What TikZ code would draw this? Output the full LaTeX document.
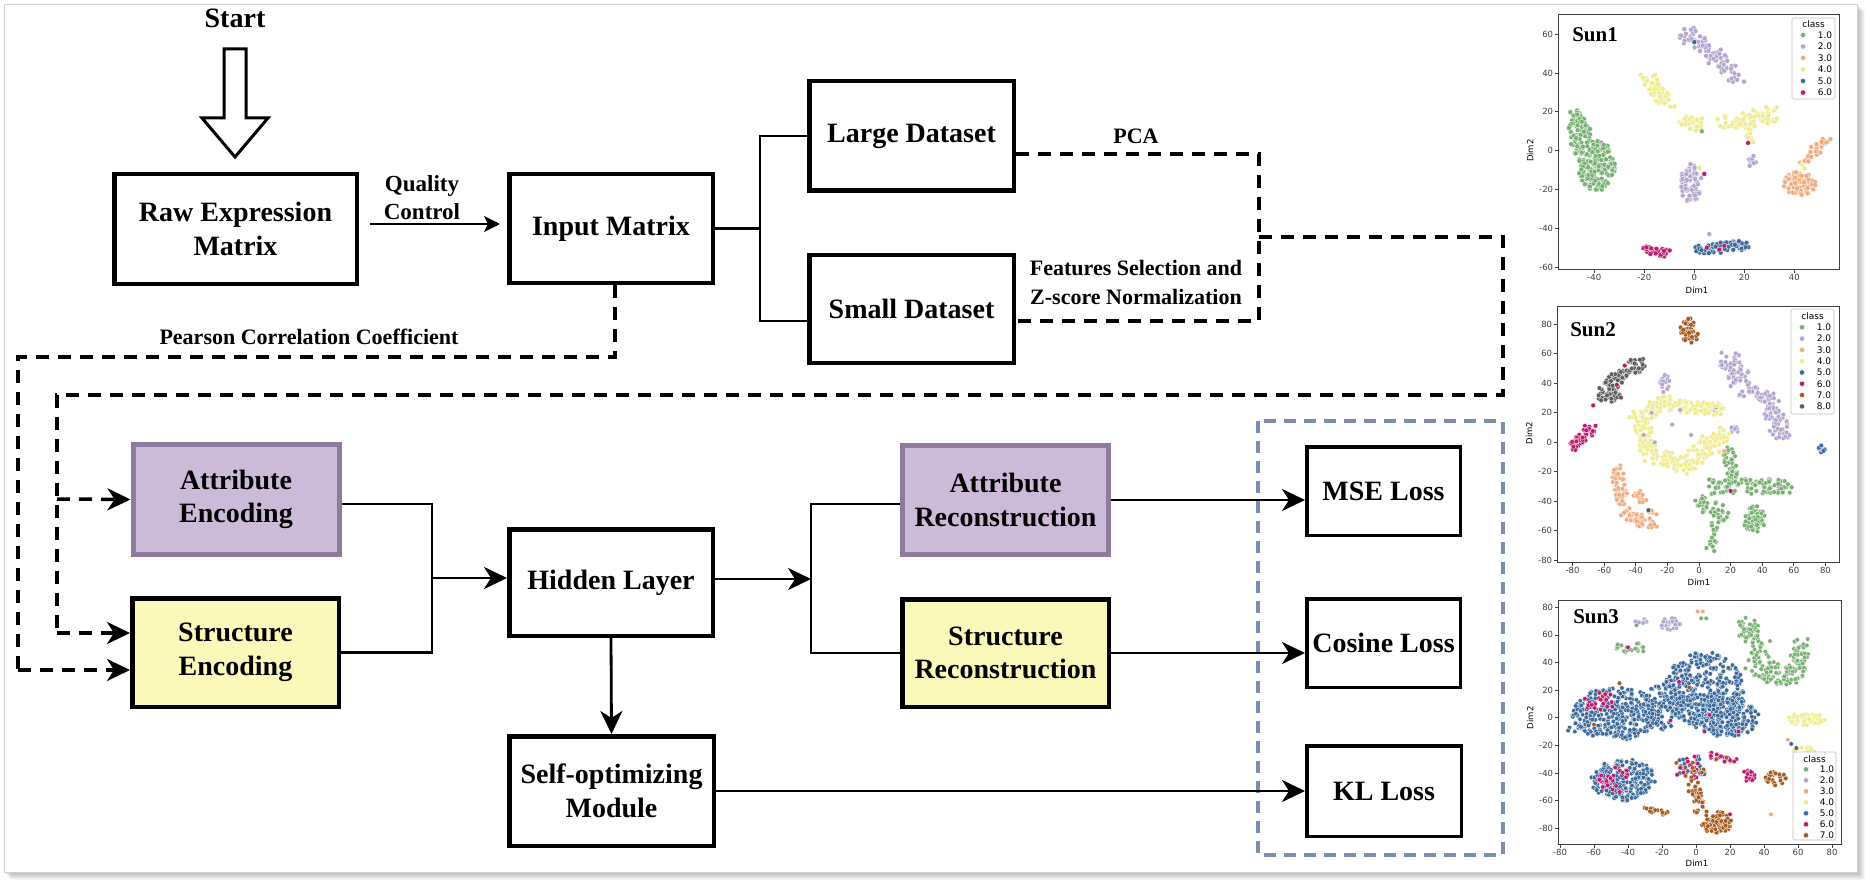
\documentclass[tikz,border=0pt]{standalone}
\usepackage{fontspec}
\setmainfont{Liberation Serif}
\newfontfamily\plotfont{DejaVu Sans}
\usetikzlibrary{arrows.meta}
\definecolor{attfill}{HTML}{CBBBD8}
\definecolor{attdraw}{HTML}{8E7B9C}
\definecolor{strfill}{HTML}{FBF9B9}
\definecolor{bluedash}{HTML}{7A8FAE}
\definecolor{c1}{HTML}{79B174}
\definecolor{c2}{HTML}{B3A6CF}
\definecolor{c3}{HTML}{F0AC7E}
\definecolor{c4}{HTML}{EFEC8E}
\definecolor{c5}{HTML}{3C6A9C}
\definecolor{c6}{HTML}{C2186E}
\definecolor{c7}{HTML}{A65B1D}
\definecolor{c8}{HTML}{5E5E5E}
\def\scdotr{2.3pt}
\newcommand\dotblob[6]{%
  \foreach \k in {1,...,#1}{%
    \pgfmathsetmacro\myrad{sqrt(rnd)}%
    \pgfmathsetmacro\myang{360*rnd}%
    \pgfmathsetmacro\myx{(#2)+(#4)*\myrad*cos(\myang)}%
    \pgfmathsetmacro\myy{(#3)+(#5)*\myrad*sin(\myang)}%
    \fill[scdot=#6] (\myx,\myy) circle[radius=\scdotr];
  }}
\newcommand\dotseg[7]{%
  \foreach \k in {1,...,#1}{%
    \pgfmathsetmacro\myu{rnd}%
    \pgfmathsetmacro\myx{(#2)+((#4)-(#2))*\myu+(#6)*rand}%
    \pgfmathsetmacro\myy{(#3)+((#5)-(#3))*\myu+(#6)*rand}%
    \fill[scdot=#7] (\myx,\myy) circle[radius=\scdotr];
  }}
\newcommand\onedot[3]{\fill[scdot=#3] (#1,#2) circle[radius=\scdotr];}
\begin{document}
\begin{tikzpicture}[x=1pt,y=-1pt,
  mainbox/.style={draw=black, line width=4.5pt, fill=white, align=center, inner sep=0pt, font=\fontsize{28}{33.5}\selectfont\bfseries},
  attbox/.style={mainbox, draw=attdraw, fill=attfill, line width=5pt},
  strbox/.style={mainbox, fill=strfill},
  lossbox/.style={mainbox, line width=3.5pt},
  lbl/.style={align=center, inner sep=0pt, font=\fontsize{22}{29}\selectfont\bfseries},
  conn/.style={line width=2.8pt, line join=miter},
  arr/.style={-{Stealth[length=23pt,width=22pt,inset=7pt]}},
  dsh/.style={line width=3.5pt, dash pattern=on 13pt off 9pt},
  scdot/.style={fill=#1, draw=white, line width=0.3pt},
  tickf/.style={font=\plotfont\fontsize{8.5}{9}\selectfont, inner sep=1pt},
  legf/.style={font=\plotfont\fontsize{9}{10}\selectfont, inner sep=0pt},
  axframe/.style={draw=black!75, line width=0.9pt},
  legbox/.style={draw=black!25, fill=white, line width=0.6pt, rounded corners=1.5pt},
  sunlbl/.style={font=\fontsize{21}{21}\selectfont\bfseries, inner sep=0pt}
]
\useasboundingbox (0,0) rectangle (1870,885);
\fill[white] (0,0) rectangle (1870,885);
\foreach \i in {1,...,8} \fill[black, opacity=0.035] ({3+\i},{3+\i}) rectangle ({1857+\i},{872+\i});
\fill[white, draw=black!18, line width=0.8pt] (4,4) rectangle (1857,872);

% ---------- flow chart ----------
\node[lbl, font=\fontsize{28}{33}\selectfont\bfseries] (start) at (235,18) {Start};
\draw[line width=3pt, fill=white, line join=miter] (224,49) -- (246,49) -- (246,118) -- (268,118) -- (235,157) -- (202,118) -- (224,118) -- cycle;

\node[mainbox, minimum width=242.5pt, minimum height=109.5pt] (raw) at (235.5,229) {Raw Expression\\Matrix};
\node[mainbox, minimum width=203.5pt, minimum height=108.5pt] (input) at (611,228.5) {Input Matrix};
\node[mainbox, minimum width=204.5pt, minimum height=109.5pt] (large) at (911.5,136) {Large Dataset};
\node[mainbox, minimum width=204.5pt, minimum height=107.5pt] (small) at (911.5,309) {Small Dataset};
\node[attbox, minimum width=206pt, minimum height=110pt] (attenc) at (236,499.5) {Attribute\\Encoding};
\node[strbox, minimum width=206.5pt, minimum height=108.5pt] (strenc) at (235.5,652.5) {Structure\\Encoding};
\node[mainbox, minimum width=203.5pt, minimum height=106.5pt] (hidden) at (611,582.5) {Hidden Layer};
\node[mainbox, minimum width=204.5pt, minimum height=109.5pt] (selfopt) at (611.5,791) {Self-optimizing\\Module};
\node[attbox, minimum width=206pt, minimum height=109pt] (attrec) at (1005.5,500) {Attribute\\Reconstruction};
\node[strbox, minimum width=206.5pt, minimum height=107.5pt] (strrec) at (1005.5,653) {Structure\\Reconstruction};
\draw[bluedash, line width=4pt, dash pattern=on 12pt off 8pt] (1258,421) rectangle (1503,855);
\node[lossbox, minimum width=153.5pt, minimum height=88.5pt] (mse) at (1383.5,491) {MSE Loss};
\node[lossbox, minimum width=153.5pt, minimum height=88.5pt] (cos) at (1383.5,643) {Cosine Loss};
\node[lossbox, minimum width=154.5pt, minimum height=90.5pt] (kl) at (1384,791) {KL Loss};

% labels
\node[lbl, font=\fontsize{23}{28}\selectfont\bfseries] (qc) at (422,198) {Quality\\Control};
\node[lbl] (pca) at (1136,136) {PCA};
\node[lbl] (fs) at (1136,282.5) {Features Selection and\\Z-score Normalization};
\node[lbl] (pcc) at (309,337) {Pearson Correlation Coefficient};

% solid connectors
\draw[line width=2.2pt, -{Stealth[length=16pt,width=16pt,inset=4pt]}] ([xshift=11pt,yshift=5pt]raw.east) -- ([xshift=-7pt,yshift=4.5pt]input.west);
\coordinate (j1) at (760,228.5);
\draw[conn] (input.east) -- (j1);
\draw[conn] (large.west) -| (j1) |- ([yshift=-12pt]small.west);
\coordinate (j2) at (432,504);
\draw[conn] ([yshift=-4.5pt]attenc.east) -| (j2) |- (strenc.east);
\draw[conn, arr] (432,578) -- ([yshift=4.5pt]hidden.west);
\draw[conn, arr] (hidden.south) -- (selfopt.north);
\coordinate (j3) at (811,579);
\draw[conn, arr] ([yshift=3.5pt]hidden.east) -- (j3);
\draw[conn] ([yshift=-4pt]attrec.west) -| (811,653) -- (strrec.west);
\draw[conn, arr] (attrec.east) -- (attrec.east -| mse.west);
\draw[conn, arr] (strrec.east) -- (strrec.east -| cos.west);
\draw[conn, arr] (selfopt.east) -- (selfopt.east -| kl.west);

% dashed connectors
\coordinate (d1) at (1259,154);
\coordinate (d2) at (1259,321);
\draw[dsh] ([yshift=-18pt]large.east) -- (d1) -- (d2) -- ([yshift=-12pt]small.east);
\coordinate (d3) at (1259,237);
\coordinate (d4) at (1503,237);
\coordinate (d5) at (1503,395);
\coordinate (d6) at (57,395);
\draw[dsh] (d3) -- (d4) -- (d5) -- (d6) -- (57,633);
\draw[dsh, arr] (57,633) -- ([yshift=19.5pt]strenc.west);
\draw[dsh, arr] (57,499) -- (attenc.west);
\coordinate (p1) at (615,357);
\coordinate (p2) at (18,357);
\draw[dsh] ([xshift=4pt]input.south) -- (p1) -- (p2) -- (18,670);
\draw[dsh, arr] (18,670) -- ([yshift=-17.5pt]strenc.west);

% ---------- Sun1 ----------
\begin{scope}[shift={(1694.3,150.7)}, x=2.5pt, y=1.94pt]
\pgfmathsetseed{11}
\def\scdotr{2.5pt}
\dotseg{30}{-48}{20}{-44}{8}{2.5}{c1}
\dotblob{65}{-46}{8}{4.5}{11}{c1}
\dotblob{180}{-39}{-8}{7.5}{13}{c1}
\dotseg{85}{-3}{61}{17}{38}{3.5}{c2}
\onedot{0}{56}{c5}
\dotseg{50}{-19}{38}{-10}{24}{3}{c4}
\dotblob{40}{-1}{14}{5.5}{4}{c4}
\onedot{3}{10}{c1}
\dotseg{75}{13}{13}{31}{19}{4}{c4}
\dotseg{14}{22}{12}{22}{5}{1.5}{c4}
\onedot{21.5}{4}{c6}
\dotblob{10}{23}{-5}{1.8}{3.5}{c2}
\dotblob{80}{42}{-17}{6.5}{6}{c3}
\dotseg{30}{43}{-6}{53}{6}{2}{c3}
\onedot{43}{-7}{c4}\onedot{44}{-9}{c4}
\dotblob{75}{-1.5}{-16.5}{4.5}{10}{c2}
\onedot{4}{-12}{c6}\onedot{2}{-9}{c4}
\dotseg{28}{-20}{-50.5}{-10}{-53}{2}{c6}
\dotseg{65}{1}{-52}{20}{-48}{2.5}{c5}
\onedot{5}{-50}{c6}\onedot{10}{-51}{c6}\onedot{12}{-49}{c6}
\onedot{6}{-43}{c2}
\end{scope}
\draw[axframe] (1558,14) rectangle (1839,269);
\foreach \v in {60,40,...,-60}{
  \pgfmathsetmacro\yy{150.7-1.94*\v}
  \draw[black!75, line width=0.8pt] (1558,\yy) -- (1554.5,\yy) node[left, tickf] {\v};}
\foreach \v in {-40,-20,...,40}{
  \pgfmathsetmacro\xx{1694.3+2.5*\v}
  \draw[black!75, line width=0.8pt] (\xx,269) -- (\xx,272.5) node[below, tickf] {\v};}
\node[tickf] (s1x) at (1697,290) {Dim1};
\node[tickf, rotate=90] (s1y) at (1530,150.7) {Dim2};
\node[sunlbl] (s1) at (1595,35) {Sun1};
\draw[legbox] (1792,18) rectangle (1835,99);
\node[legf] at (1813.5,24.5) {class};
\foreach \k/\lab/\col in {1/1.0/c1,2/2.0/c2,3/3.0/c3,4/4.0/c4,5/5.0/c5,6/6.0/c6}{
  \pgfmathsetmacro\ly{35+11.5*(\k-1)}
  \fill[scdot=\col] (1803,\ly) circle[radius=2.6pt];
  \node[legf] at (1825,\ly) {\lab};}

% ---------- Sun2 ----------
\begin{scope}[shift={(1699,442.3)}, x=1.58pt, y=1.475pt]
\pgfmathsetseed{22}
\def\scdotr{2.4pt}
\dotblob{40}{-6}{75}{6}{9}{c7}
\dotseg{90}{-60}{34}{-38}{55}{5}{c8}
\dotseg{22}{-60}{30}{-48}{31}{3}{c8}
\onedot{-47}{52}{c6}\onedot{-52}{39}{c6}\onedot{-67}{25}{c6}
\dotblob{16}{-22}{40}{3.5}{6}{c2}
\dotseg{42}{-80}{-3}{-68}{10}{3}{c6}
\dotseg{60}{17}{57}{28}{40}{6}{c2}
\dotseg{30}{28}{36}{42}{30}{4}{c2}
\dotseg{85}{44}{30}{52}{5}{6}{c2}
\dotseg{10}{8}{22}{12}{24}{2}{c2}
\dotseg{10}{20}{8}{26}{11}{2}{c2}
\dotseg{60}{-40}{14}{-25}{26}{5}{c4}
\dotseg{85}{-25}{27}{12}{23}{5}{c4}
\dotseg{55}{-36}{12}{-32}{-6}{5}{c4}
\dotseg{65}{-30}{-9}{-4}{-17}{5}{c4}
\dotseg{80}{-6}{-13}{16}{6}{6}{c4}
\onedot{-30}{20}{c2}\onedot{-17}{12}{c2}\onedot{-35}{5}{c2}\onedot{-28}{0}{c2}\onedot{-5}{5}{c2}\onedot{-12}{22}{c2}
\dotblob{8}{78}{-4}{2.5}{3.5}{c5}
\dotseg{50}{-52}{-18}{-48}{-42}{4}{c3}
\dotseg{45}{-48}{-48}{-28}{-57}{4}{c3}
\dotseg{20}{-40}{-33}{-29}{-50}{3}{c3}
\onedot{-32}{-46}{c8}
\dotseg{45}{18}{-5}{22}{-30}{4}{c1}
\dotseg{90}{5}{-30}{55}{-30}{5}{c1}
\dotseg{45}{-1}{-40}{15}{-50}{5}{c1}
\dotseg{16}{10}{-55}{7}{-72}{3}{c1}
\dotblob{60}{35}{-52}{7}{9}{c1}
\onedot{20}{-33}{c6}\onedot{16}{-6}{c3}
\end{scope}
\draw[axframe] (1557,306) rectangle (1839,562);
\foreach \v in {80,60,...,-80}{
  \pgfmathsetmacro\yy{442.3-1.475*\v}
  \draw[black!75, line width=0.8pt] (1557,\yy) -- (1553.5,\yy) node[left, tickf] {\v};}
\foreach \v in {-80,-60,...,80}{
  \pgfmathsetmacro\xx{1699+1.58*\v}
  \draw[black!75, line width=0.8pt] (\xx,562) -- (\xx,565.5) node[below, tickf] {\v};}
\node[tickf] (s2x) at (1699,582) {Dim1};
\node[tickf, rotate=90] (s2y) at (1529,433) {Dim2};
\node[sunlbl] (s2) at (1593,330) {Sun2};
\draw[legbox] (1791,309) rectangle (1834,414);
\node[legf] at (1812.5,316) {class};
\foreach \k/\lab/\col in {1/1.0/c1,2/2.0/c2,3/3.0/c3,4/4.0/c4,5/5.0/c5,6/6.0/c6,7/7.0/c7,8/8.0/c8}{
  \pgfmathsetmacro\ly{327.3+11.3*(\k-1)}
  \fill[scdot=\col] (1802,\ly) circle[radius=2.6pt];
  \node[legf] at (1824,\ly) {\lab};}

% ---------- Sun3 ----------
\begin{scope}[shift={(1696,717.7)}, x=1.7pt, y=1.38pt]
\pgfmathsetseed{33}
\def\scdotr{2.3pt}
\dotseg{12}{-74}{-9}{-66}{-6}{2}{c5}
\dotblob{330}{-47}{3}{26}{19}{c5}
\dotblob{110}{-20}{8}{12}{18}{c5}
\dotblob{380}{5}{20}{23}{28}{c5}
\dotblob{180}{18}{0}{19}{14}{c5}
\dotblob{20}{-56}{12}{10}{8}{c6}
\onedot{-10}{26}{c6}\onedot{-15}{-2}{c6}\onedot{8}{2}{c6}\onedot{5}{-10}{c6}\onedot{25}{-10}{c6}\onedot{-4}{22}{c7}\onedot{-60}{-5}{c7}\onedot{-45}{25}{c7}
\dotblob{230}{-43}{-45}{19}{15}{c5}
\dotblob{24}{-48}{-45}{10}{10}{c6}
\dotseg{16}{-31}{-64}{-18}{-70}{2}{c7}
\dotblob{35}{-3}{-36}{10}{9}{c5}
\dotblob{15}{-4}{-36}{10}{9}{c6}
\dotblob{10}{-4}{-38}{10}{9}{c7}
\dotseg{45}{-3}{-45}{3}{-66}{4}{c7}
\dotblob{80}{12}{-76}{9}{8}{c7}
\onedot{20}{-70}{c6}
\dotseg{20}{8}{-27}{22}{-32}{2}{c6}
\onedot{12}{-30}{c7}\onedot{18}{-29}{c7}
\dotblob{20}{31}{-42}{4}{4}{c6}
\dotblob{35}{47}{-44}{7}{5}{c7}
\onedot{44}{-70}{c3}
\dotseg{65}{27}{72}{40}{45}{6}{c1}
\dotseg{75}{35}{36}{58}{28}{7}{c1}
\dotseg{50}{58}{32}{62}{55}{5}{c1}
\dotseg{20}{-48}{50}{-32}{51}{3}{c1}
\onedot{-40}{51}{c6}
\dotseg{8}{-37}{70}{-29}{70}{1.5}{c2}
\onedot{-35}{67}{c1}
\dotblob{28}{-15}{68}{6}{5}{c2}
\onedot{1}{77}{c3}\onedot{4}{77}{c3}\onedot{3}{72}{c1}\onedot{6}{72}{c1}
\dotblob{50}{65}{-1}{11}{4.5}{c4}
\dotblob{20}{63}{-25}{7}{5}{c4}
\onedot{54}{-16}{c3}\onedot{56}{-19}{c5}\onedot{59}{-22}{c8}
\end{scope}
\draw[axframe] (1558,600) rectangle (1841,844);
\foreach \v in {80,60,...,-80}{
  \pgfmathsetmacro\yy{717.7-1.38*\v}
  \draw[black!75, line width=0.8pt] (1558,\yy) -- (1554.5,\yy) node[left, tickf] {\v};}
\foreach \v in {-80,-60,...,80}{
  \pgfmathsetmacro\xx{1696+1.7*\v}
  \draw[black!75, line width=0.8pt] (\xx,844) -- (\xx,847.5) node[below, tickf] {\v};}
\node[tickf] (s3x) at (1697,863) {Dim1};
\node[tickf, rotate=90] (s3y) at (1530,717.7) {Dim2};
\node[sunlbl] (s3) at (1596,617) {Sun3};
\draw[legbox] (1793,752) rectangle (1836,840);
\node[legf] at (1814.5,759) {class};
\foreach \k/\lab/\col in {1/1.0/c1,2/2.0/c2,3/3.0/c3,4/4.0/c4,5/5.0/c5,6/6.0/c6,7/7.0/c7}{
  \pgfmathsetmacro\ly{769.3+11*(\k-1)}
  \fill[scdot=\col] (1806,\ly) circle[radius=2.6pt];
  \node[legf] at (1827,\ly) {\lab};}
\end{tikzpicture}
\end{document}
